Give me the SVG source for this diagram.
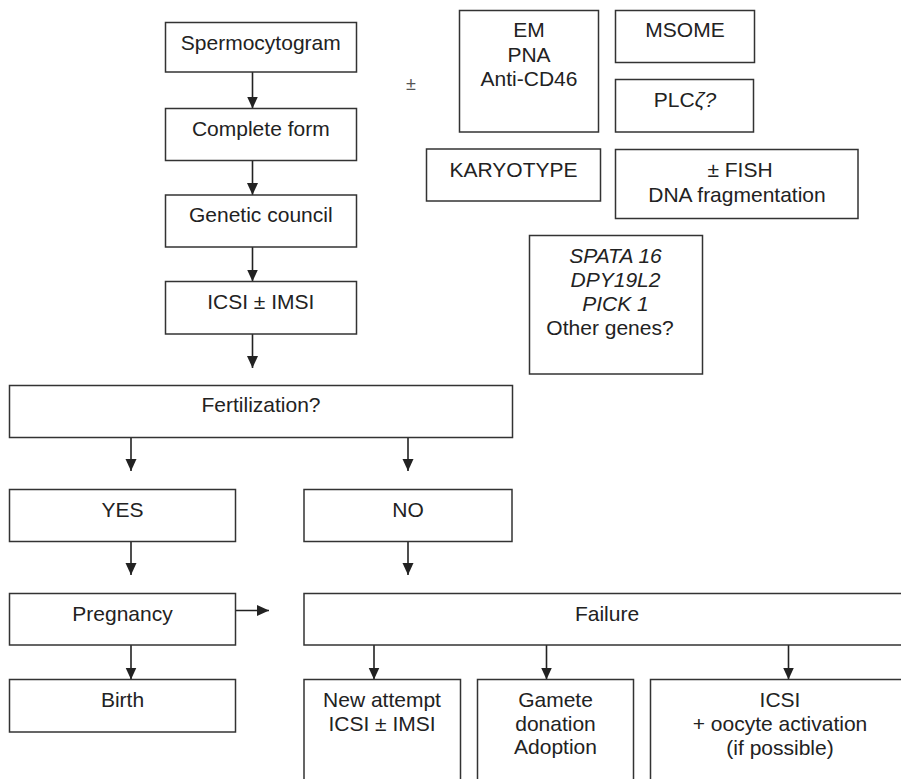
<svg xmlns="http://www.w3.org/2000/svg" width="901" height="779" viewBox="0 0 901 779">
<defs>
<style>
rect.b{fill:#fff;stroke:#333;stroke-width:1.5}
text{font-family:"Liberation Sans",Arial,sans-serif;font-size:21px;fill:#222;text-anchor:middle}
.it{font-style:italic}
.c{fill:none;stroke:#222;stroke-width:1.6}
</style>
<marker id="ah" markerUnits="userSpaceOnUse" markerWidth="13" markerHeight="13" refX="12" refY="5.5" orient="auto">
<path d="M0,0 L12,5.5 L0,11 Z" fill="#222"/>
</marker>
</defs>
<rect width="901" height="779" fill="#fff"/>
<g id="connectors">
<path class="c" marker-end="url(#ah)" d="M252.5,72 V108.5"/>
<path class="c" marker-end="url(#ah)" d="M252.5,160.5 V195"/>
<path class="c" marker-end="url(#ah)" d="M252.5,247 V281.5"/>
<path class="c" marker-end="url(#ah)" d="M252.5,334 V368"/>
<path class="c" marker-end="url(#ah)" d="M131,437.5 V471"/>
<path class="c" marker-end="url(#ah)" d="M408,437.5 V471"/>
<path class="c" marker-end="url(#ah)" d="M131,541.5 V575"/>
<path class="c" marker-end="url(#ah)" d="M408,541.5 V575"/>
<path class="c" marker-end="url(#ah)" d="M131,645 V679.5"/>
<path class="c" marker-end="url(#ah)" d="M235.5,610.5 H269"/>
<path class="c" marker-end="url(#ah)" d="M374,645 V679.5"/>
<path class="c" marker-end="url(#ah)" d="M546.5,645 V679.5"/>
<path class="c" marker-end="url(#ah)" d="M788.5,645 V679.5"/>
</g>
<g id="spermocytogram"><rect class="b" x="165.5" y="22.5" width="191" height="49.5"/><text x="260.8" y="50">Spermocytogram</text></g>
<g id="complete-form"><rect class="b" x="165.5" y="108.5" width="191" height="52"/><text x="260.8" y="136">Complete form</text></g>
<g id="genetic-council"><rect class="b" x="165.5" y="195" width="191" height="52"/><text x="260.8" y="222.3">Genetic council</text></g>
<g id="icsi-imsi"><rect class="b" x="165.5" y="281.5" width="191" height="52.5"/><text x="260.8" y="309">ICSI ± IMSI</text></g>
<g id="fertilization"><rect class="b" x="9.5" y="385.5" width="503" height="52"/><text x="261" y="412">Fertilization?</text></g>
<g id="yes"><rect class="b" x="9.5" y="489.5" width="226" height="52"/><text x="122.5" y="516.7">YES</text></g>
<g id="no"><rect class="b" x="304" y="489.5" width="208" height="52"/><text x="408" y="517">NO</text></g>
<g id="pregnancy"><rect class="b" x="9.5" y="593.5" width="226" height="51.5"/><text x="122.5" y="620.8">Pregnancy</text></g>
<g id="failure"><rect class="b" x="304" y="593.5" width="606" height="51.5"/><text x="607" y="620.7">Failure</text></g>
<g id="birth"><rect class="b" x="9.5" y="679.5" width="226" height="52.5"/><text x="122.5" y="706.7">Birth</text></g>
<g id="new-attempt"><rect class="b" x="304" y="679.5" width="156.5" height="120"/><text x="382" y="707.3">New attempt</text><text x="382" y="730.7">ICSI ± IMSI</text></g>
<g id="gamete"><rect class="b" x="477.5" y="679.5" width="156" height="120"/><text x="555.5" y="707.3">Gamete</text><text x="555.5" y="730.7">donation</text><text x="555.5" y="754">Adoption</text></g>
<g id="icsi-activation"><rect class="b" x="650.5" y="679.5" width="260" height="120"/><text x="780" y="706.7">ICSI</text><text x="780" y="731">+ oocyte activation</text><text x="780" y="755">(if possible)</text></g>
<g id="pm"><text x="411" y="90" style="font-size:18px;fill:#555">±</text></g>
<g id="em-pna"><rect class="b" x="459.5" y="10.5" width="139" height="121.5"/><text x="529" y="37.3">EM</text><text x="529" y="61.8">PNA</text><text x="529" y="86.3">Anti-CD46</text></g>
<g id="msome"><rect class="b" x="615.5" y="10.5" width="139" height="52"/><text x="685" y="37.3">MSOME</text></g>
<g id="plc"><rect class="b" x="615.5" y="79.5" width="138" height="52.5"/><text x="685" y="106.7">PLC<tspan class="it">ζ?</tspan></text></g>
<g id="karyotype"><rect class="b" x="426.5" y="149" width="174" height="52"/><text x="513.5" y="176.7">KARYOTYPE</text></g>
<g id="fish"><rect class="b" x="615.5" y="149.5" width="242.5" height="69"/><text x="740" y="176.7">± FISH</text><text x="737" y="201.5">DNA fragmentation</text></g>
<g id="genes"><rect class="b" x="529.5" y="235.5" width="173" height="138.5"/><text class="it" x="615.5" y="262.7">SPATA 16</text><text class="it" x="615.5" y="287.3">DPY19L2</text><text class="it" x="615.5" y="311">PICK 1</text><text x="610" y="335">Other genes?</text></g>
</svg>
